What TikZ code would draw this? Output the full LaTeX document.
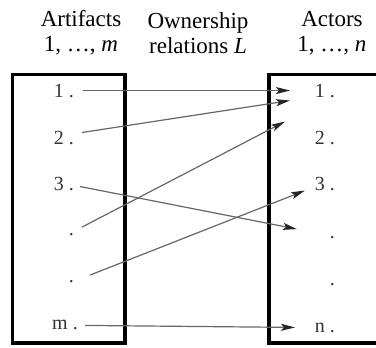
\documentclass[tikz,border=0pt]{standalone}
\usepackage{fontspec}
\setmainfont{Liberation Serif}
\usetikzlibrary{arrows.meta,calc}
\begin{document}
\begin{tikzpicture}[x=1pt,y=1pt,
  head/.style={font=\fontsize{23}{25}\selectfont, align=center, inner sep=0pt},
  item/.style={font=\fontsize{20}{22}\selectfont, inner sep=0pt, anchor=base east, text=black!80},
  frame/.style={line width=3.4pt, black},
  arr/.style={draw=black!60, line width=1.2pt, -{Stealth[length=14pt,width=7pt,inset=3pt,color=black!85,fill=black!85]}}
]
\useasboundingbox (0,0) rectangle (376,-348);
% headers
\node[head] (hA) at (81,-33) {Artifacts\\1, …, \textit{m}};
\node[head] (hO) at (198,-33) {Ownership\\relations \textit{L}};
\node[head] (hC) at (332,-33) {Actors\\1, …, \textit{n}};
% boxes
\draw[frame] (12.5,-74.5) rectangle (125,-343);
\draw[frame] (380,-74.5) -- (269,-74.5) -- (269,-343) -- (380,-343);
% left items
\node[item] (l1) at (74,-97) {1 .};
\node[item] (l2) at (74,-144) {2 .};
\node[item] (l3) at (74,-190) {3 .};
\node[item] (ld1) at (74,-236) {.};
\node[item] (ld2) at (74,-283) {.};
\node[item] (lm) at (78,-330) {m .};
% right items
\node[item] (r1) at (335,-97) {1 .};
\node[item] (r2) at (335,-145) {2 .};
\node[item] (r3) at (335,-190) {3 .};
\node[item] (rd1) at (335,-238) {.};
\node[item] (rd2) at (335,-286) {.};
\node[item] (rn) at (335,-332) {n .};
% arrows
\draw[arr] ([xshift=9pt]l1.east) -- ([xshift=-45pt]r1.east);
\draw[arr] ([xshift=8pt,yshift=5pt]l2.east) -- ([xshift=-45pt,yshift=-10pt]r1.east);
\draw[arr] ([xshift=8pt,yshift=8pt]ld1.east) -- ([xshift=-50pt,yshift=17pt]r2.east);
\draw[arr] ([xshift=6pt,yshift=-3pt]l3.east) -- ([xshift=-38pt,yshift=8pt]rd1.east);
\draw[arr] ([xshift=16pt,yshift=7pt]ld2.east) -- ([xshift=-30pt,yshift=-7pt]r3.east);
\draw[arr] ([xshift=7pt]lm.east) -- ([xshift=-40pt]rn.east);
\end{tikzpicture}
\end{document}
